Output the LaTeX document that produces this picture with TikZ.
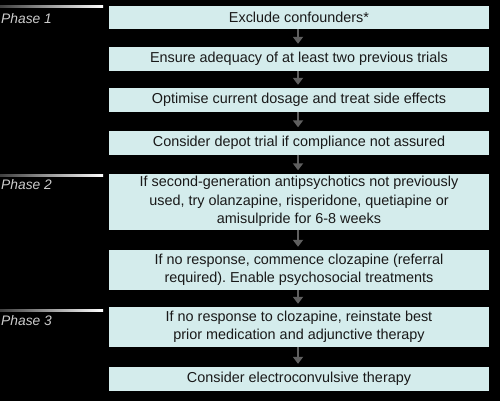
\documentclass[tikz,border=0pt]{standalone}
\usepackage{fontspec}
\setmainfont{Liberation Sans}
\usetikzlibrary{arrows.meta,shadows,backgrounds}
\definecolor{boxcyan}{RGB}{212,236,236}
\definecolor{arrgray}{RGB}{95,95,95}
\definecolor{txt}{RGB}{25,25,25}
\definecolor{phasegray}{RGB}{205,205,205}
\tikzset{
  stepbox/.style={fill=boxcyan, draw=none, minimum width=380pt, inner sep=0pt,
    text=txt, align=center, font=\fontsize{14.4}{18.5}\selectfont\frenchspacing,
    drop shadow={shadow xshift=2pt, shadow yshift=-2.5pt, opacity=0.35, fill=black}},
  frame/.style={fill=white, rounded corners=6pt},
  arr/.style={draw=arrgray, line width=2.6pt, -{Triangle[width=10pt,length=7pt]}},
  phaselabel/.style={anchor=west, inner sep=0pt, text=phasegray,
    font=\fontsize{13.8}{14}\selectfont\itshape},
  phaseline/.style={left color=black!75!white, right color=white}
}
\begin{document}
\begin{tikzpicture}[x=1pt,y=-1pt]
\fill[black] (0,0) rectangle (500,401);
\useasboundingbox (0,0) rectangle (500,401);

% boxes
\node[stepbox, minimum height=23pt] (b1) at (299,17.5) {Exclude confounders*};
\node[stepbox, minimum height=24pt] (b2) at (299,59) {Ensure adequacy of at least two previous trials};
\node[stepbox, minimum height=24pt] (b3) at (299,100) {Optimise current dosage and treat side effects};
\node[stepbox, minimum height=24pt] (b4) at (299,142.5) {Consider depot trial if compliance not assured};
\node[stepbox, minimum height=56pt] (b5) at (299,201.5) {If second-generation antipsychotics not previously\\used, try olanzapine, risperidone, quetiapine or\\amisulpride for 6-8 weeks};
\node[stepbox, minimum height=40pt] (b6) at (299,270) {If no response, commence clozapine (referral\\required). Enable psychosocial treatments};
\node[stepbox, minimum height=40pt] (b7) at (299,327) {If no response to clozapine, reinstate best\\prior medication and adjunctive therapy};
\node[stepbox, minimum height=24pt] (b8) at (299,379) {Consider electroconvulsive therapy};

% white frames behind boxes
\begin{scope}[on background layer]
\foreach \b in {b1,b2,b3,b4,b5,b6,b7,b8}{
  \fill[frame] ([shift={(-3pt,3pt)}]\b.north west) rectangle ([shift={(6pt,-6pt)}]\b.south east);
}
\end{scope}

% arrows
\draw[arr] ([xshift=-1pt]b1.south) -- ([shift={(-1pt,3pt)}]b2.north);
\draw[arr] ([xshift=-1pt]b2.south) -- ([shift={(-1pt,3pt)}]b3.north);
\draw[arr] ([xshift=-1pt]b3.south) -- ([shift={(-1pt,3pt)}]b4.north);
\draw[arr] ([xshift=-1pt]b4.south) -- ([shift={(-1pt,3pt)}]b5.north);
\draw[arr] ([xshift=-1pt]b5.south) -- ([shift={(-1pt,3pt)}]b6.north);
\draw[arr] ([xshift=-1pt]b6.south) -- ([shift={(-1pt,3pt)}]b7.north);
\draw[arr] ([xshift=-1pt]b7.south) -- ([shift={(-1pt,3pt)}]b8.north);

% phase markers
\shade[phaseline] (0,5.5) rectangle (103,7.5);
\node[phaselabel] (p1) at (1,19) {Phase 1};
\shade[phaseline] (0,174) rectangle (103,176);
\node[phaselabel] (p2) at (1,185) {Phase 2};
\shade[phaseline] (0,309) rectangle (103,311);
\node[phaselabel] (p3) at (1,320.5) {Phase 3};
\end{tikzpicture}
\end{document}
